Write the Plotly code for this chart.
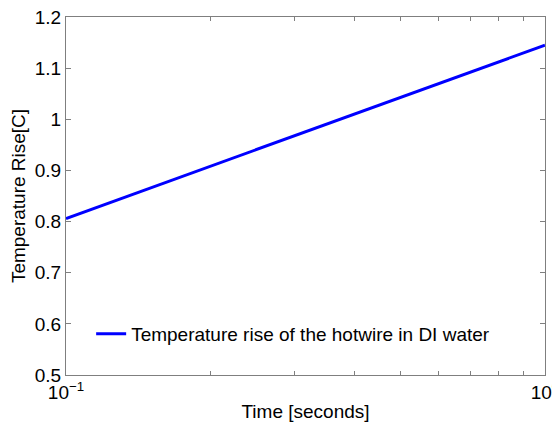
import plotly.graph_objects as go

time_s = [0.1, 0.2, 0.3, 0.5, 0.7, 1.0]
temp_rise = [0.806, 0.908, 0.968, 1.043, 1.093, 1.145]
y_ticks = [0.5, 0.6, 0.7, 0.8, 0.9, 1.0, 1.1, 1.2]
y_ticktext = ["0.5", "0.6", "0.7", "0.8", "0.9", "1", "1.1", "1.2"]
x_ticks = [0.1, 1.0]
x_ticktext = ["10<sup>−1</sup>", "10<sup>0</sup>"]
x_minor = [0.2, 0.3, 0.4, 0.5, 0.6, 0.7, 0.8, 0.9]

fig = go.Figure()
fig.add_trace(go.Scatter(
    x=time_s, y=temp_rise, mode="lines",
    line=dict(color="#0000ff", width=3),
    name="Temperature rise of the hotwire in DI water",
))

font = "Liberation Sans, Arial, Helvetica, sans-serif"
axis_common = dict(
    showgrid=False, zeroline=False, showline=True, linecolor="#7f7f7f",
    linewidth=1, mirror="ticks", ticks="inside", ticklen=5, automargin=False,
    ticklabeloverflow="allow",
    tickcolor="#7f7f7f", tickfont=dict(family=font, size=19, color="black"),
)
fig.update_layout(
    width=552, height=414,
    margin=dict(l=58, r=15, t=9, b=47),
    paper_bgcolor="white", plot_bgcolor="white",
    font=dict(family=font, color="black"),
    showlegend=True,
    legend=dict(x=0.0525, y=0.115, xanchor="left", yanchor="middle",
                bgcolor="rgba(0,0,0,0)", font=dict(family=font, size=19)),
    xaxis=dict(
        type="log", range=[-1, 0], tickmode="array",
        tickvals=x_ticks, ticktext=x_ticktext,
        minor=dict(tickmode="array", tickvals=x_minor, ticks="inside",
                   ticklen=4, tickcolor="#7f7f7f"),
        title=dict(text="Time [seconds]", font=dict(family=font, size=19), standoff=6),
        **axis_common,
    ),
    yaxis=dict(
        range=[0.5, 1.2], tickmode="array", tickvals=y_ticks, ticktext=y_ticktext,
        title=dict(text="Temperature Rise[C]", font=dict(family=font, size=19), standoff=4),
        **axis_common,
    ),
)
fig.write_html("out.html")
